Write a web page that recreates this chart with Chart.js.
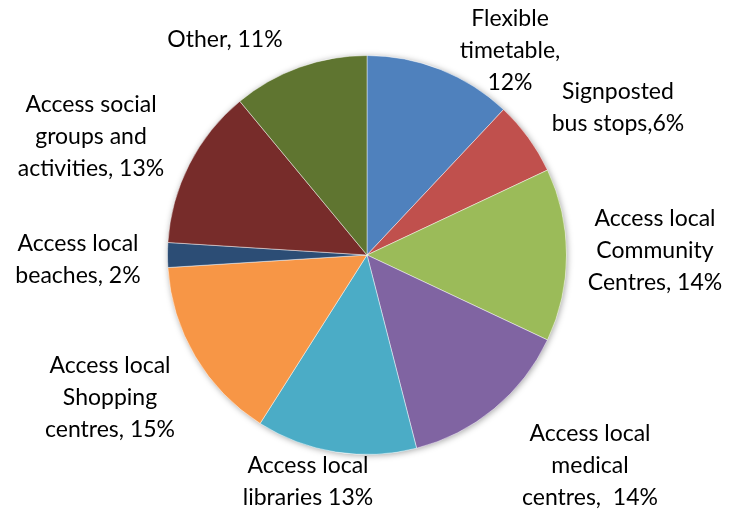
<!DOCTYPE html>
<html>
<head>
<meta charset="utf-8">
<script src="https://cdn.jsdelivr.net/npm/chart.js@4"></script>
<style>
  html, body { margin: 0; padding: 0; background: #fff; }
  #wrap { width: 733px; height: 515px; position: relative; }
</style>
</head>
<body>
<div id="wrap"><canvas id="c" width="733" height="515"></canvas></div>
<script>
// Reasons for using the service, share of responses (%)
const categories = [
  'Flexible timetable',
  'Signposted bus stops',
  'Access local Community Centres',
  'Access local medical centres',
  'Access local libraries',
  'Access local Shopping centres',
  'Access local beaches',
  'Access social groups and activities',
  'Other'
];
const shares = [12, 6, 14, 14, 13, 15, 2, 13, 11];

// Label text as printed beside each slice (one entry per line)
const labelLines = [
  ['Flexible', 'timetable,', '12%'],
  ['Signposted', 'bus stops,6%'],
  ['Access local', 'Community', 'Centres, 14%'],
  ['Access local', 'medical', 'centres,  14%'],
  ['Access local', 'libraries 13%'],
  ['Access local', 'Shopping', 'centres, 15%'],
  ['Access local', 'beaches, 2%'],
  ['Access social', 'groups and', 'activities, 13%'],
  ['Other, 11%']
];

const sliceColors = [
  '#4F81BD', '#C0504D', '#9BBB59', '#8064A2', '#4BACC6',
  '#F79646', '#2C4D75', '#772C2A', '#5F7530'
];

// Label block centres, relative to the pie centre (px)
const labelOffsets = [
  [143, -204], [251, -147], [288, -4], [223, 211], [-59, 227],
  [-257, 143], [-289, 5], [-276, -118], [-142, -215]
];

const FONT = '23px Lato, "Open Sans", sans-serif';
const LINE_H = 32;

const outsideLabels = {
  id: 'outsideLabels',
  afterDatasetsDraw(chart) {
    const ctx = chart.ctx;
    const arcs = chart.getDatasetMeta(0).data;
    if (!arcs.length) return;
    const cx = arcs[0].x, cy = arcs[0].y;
    ctx.save();
    ctx.font = FONT;
    ctx.fillStyle = '#000';
    ctx.textAlign = 'center';
    ctx.textBaseline = 'middle';
    labelLines.forEach((lines, i) => {
      const [dx, dy] = labelOffsets[i];
      const top = cy + dy - (lines.length - 1) * LINE_H / 2;
      lines.forEach((t, j) => ctx.fillText(t, cx + dx, top + j * LINE_H));
    });
    ctx.restore();
  }
};

const pieShadow = {
  id: 'pieShadow',
  beforeDatasetsDraw(chart) {
    const ctx = chart.ctx;
    const a = chart.getDatasetMeta(0).data[0];
    if (!a) return;
    ctx.save();
    ctx.shadowColor = 'rgba(0,0,0,0.35)';
    ctx.shadowBlur = 6;
    ctx.shadowOffsetX = 1;
    ctx.shadowOffsetY = 1;
    ctx.fillStyle = '#fff';
    ctx.beginPath();
    ctx.arc(a.x, a.y, a.outerRadius, 0, Math.PI * 2);
    ctx.fill();
    ctx.restore();
  }
};

new Chart(document.getElementById('c'), {
  type: 'pie',
  data: {
    labels: categories,
    datasets: [{
      data: shares,
      backgroundColor: sliceColors,
      borderColor: 'rgba(255,255,255,0.45)',
      borderWidth: 1
    }]
  },
  options: {
    responsive: false,
    animation: false,
    layout: { padding: { top: 55, bottom: 60, left: 1, right: 0 } },
    plugins: {
      legend: { display: false },
      tooltip: { enabled: false }
    }
  },
  plugins: [pieShadow, outsideLabels]
});
</script>
</body>
</html>
